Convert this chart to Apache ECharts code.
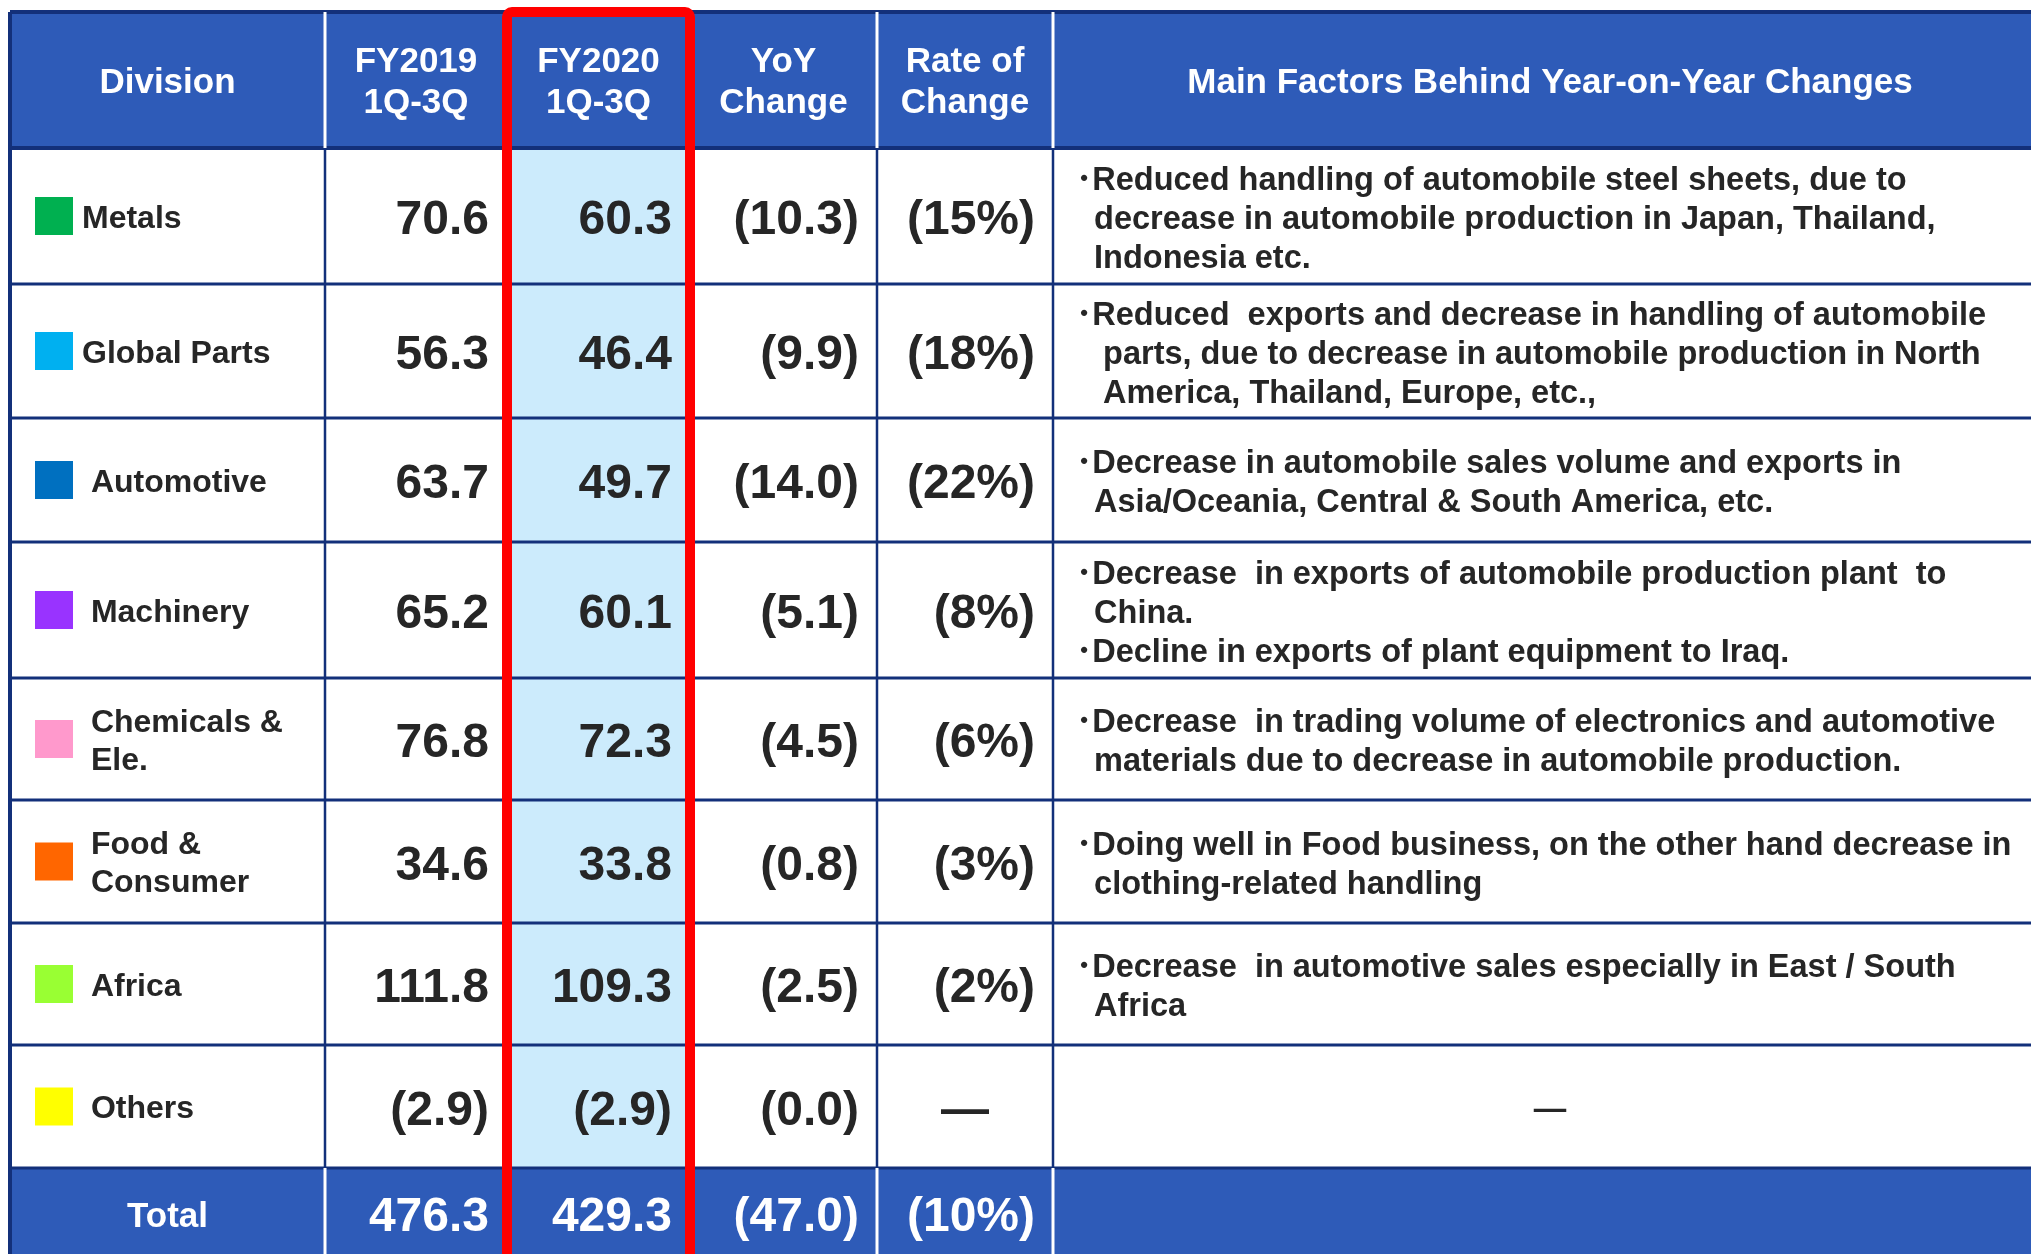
<!DOCTYPE html>
<html>
<head>
<meta charset="utf-8">
<script src="https://cdn.jsdelivr.net/npm/echarts@6/dist/echarts.min.js"></script>
<style>
html, body { margin:0; padding:0; background:#fff; }
#main { width:2031px; height:1254px; }
</style>
</head>
<body>
<div id="main"></div>
<script>
// table content
var headers = ['Division', 'FY2019\n1Q-3Q', 'FY2020\n1Q-3Q', 'YoY\nChange', 'Rate of\nChange', 'Main Factors Behind Year-on-Year Changes'];
var divisions = ['Metals', 'Global Parts', ' Automotive', ' Machinery', ' Chemicals &\n Ele.', ' Food &\n Consumer', ' Africa', ' Others'];
var divisionColors = ['#00B050', '#00B0F0', '#0070C0', '#9933FF', '#FF99CC', '#FF6600', '#99FF33', '#FFFF00'];
var fy2019 = [70.6, 56.3, 63.7, 65.2, 76.8, 34.6, 111.8, -2.9];
var fy2020 = [60.3, 46.4, 49.7, 60.1, 72.3, 33.8, 109.3, -2.9];
var yoyChange = [-10.3, -9.9, -14.0, -5.1, -4.5, -0.8, -2.5, -0.0];
var rateOfChange = [-15, -18, -22, -8, -6, -3, -2, null];
var factors = [
  '･Reduced handling of automobile steel sheets, due to\n  decrease in automobile production in Japan, Thailand,\n  Indonesia etc.',
  '･Reduced  exports and decrease in handling of automobile\n   parts, due to decrease in automobile production in North\n   America, Thailand, Europe, etc.,',
  '･Decrease in automobile sales volume and exports in\n  Asia/Oceania, Central & South America, etc.',
  '･Decrease  in exports of automobile production plant  to\n  China.\n･Decline in exports of plant equipment to Iraq.',
  '･Decrease  in trading volume of electronics and automotive\n  materials due to decrease in automobile production.',
  '･Doing well in Food business, on the other hand decrease in\n  clothing-related handling',
  '･Decrease  in automotive sales especially in East / South\n  Africa',
  null
];
var totalLabel = 'Total';
var totals = [476.3, 429.3, -47.0, -10];

// layout (pixel units on the hidden value axes)
var colEdges = [10, 325, 507, 690, 877, 1053, 2047];
var rowEdges = [12, 148, 284, 418, 542, 678, 800, 923, 1045, 1168, 1262];

var FONT = '"Liberation Sans", Arial, "Noto Sans CJK JP", sans-serif';
var BLUE = '#2E5BB8', NAVY = '#13307A', HILITE = '#CCEBFC', INK = '#262626';

function fmt(v, dec, suffix) {
  if (v == null) return '—';
  var s = Math.abs(v).toFixed(dec) + (suffix || '');
  return (v < 0 || Object.is(v, -0)) ? '(' + s + ')' : s;
}

var nRows = rowEdges.length - 1, nCols = colEdges.length - 1;
var cells = [];
for (var r = 0; r < nRows; r++) {
  for (var c = 0; c < nCols; c++) {
    cells.push([colEdges[c], rowEdges[r], colEdges[c + 1], rowEdges[r + 1], c, r]);
  }
}

function cellValue(c, r) {
  var i = r - 1;
  if (c === 1) return fmt(fy2019[i], 1);
  if (c === 2) return fmt(fy2020[i], 1);
  if (c === 3) return fmt(yoyChange[i], 1);
  return fmt(rateOfChange[i], 0, '%');
}

function renderCell(params, api) {
  var p0 = api.coord([api.value(0), api.value(1)]);
  var p1 = api.coord([api.value(2), api.value(3)]);
  var c = api.value(4), r = api.value(5);
  var isHead = r === 0, isTotal = r === nRows - 1;
  var x0 = p0[0], y0 = p0[1], x1 = p1[0], y1 = p1[1];
  var cy = (y0 + y1) / 2, cx = (x0 + x1) / 2;
  var bg = (isHead || isTotal) ? BLUE : (c === 2 ? HILITE : '#ffffff');
  var ch = [{ type: 'rect', shape: { x: x0, y: y0, width: x1 - x0, height: y1 - y0 }, style: { fill: bg } }];

  if (isHead) {
    ch.push({ type: 'text', style: { text: headers[c], x: cx, y: cy + 3, align: 'center', verticalAlign: 'middle',
      font: 'bold 35px ' + FONT, lineHeight: 41, fill: '#ffffff' } });
  } else if (isTotal) {
    if (c === 0) {
      ch.push({ type: 'text', style: { text: totalLabel, x: cx, y: cy + 2, align: 'center', verticalAlign: 'middle',
        font: 'bold 35px ' + FONT, fill: '#ffffff' } });
    } else if (c < 5) {
      var tv = c === 4 ? fmt(totals[3], 0, '%') : fmt(totals[c - 1], 1);
      ch.push({ type: 'text', style: { text: tv, x: x1 - 18, y: cy + 3, align: 'right', verticalAlign: 'middle',
        font: 'bold 48px ' + FONT, fill: '#ffffff' } });
    }
  } else {
    var i = r - 1;
    if (c === 0) {
      ch.push({ type: 'rect', shape: { x: x0 + 25, y: cy - 19, width: 38, height: 38 }, style: { fill: divisionColors[i] } });
      ch.push({ type: 'text', style: { text: divisions[i], x: x0 + 72, y: cy + 3, align: 'left', verticalAlign: 'middle',
        font: 'bold 32px ' + FONT, lineHeight: 38, fill: INK } });
    } else if (c < 5) {
      var txt = cellValue(c, r);
      var dash = txt === '—';
      ch.push({ type: 'text', style: { text: txt, x: dash ? cx : x1 - 18, y: cy + 5, align: dash ? 'center' : 'right',
        verticalAlign: 'middle', font: 'bold 48px ' + FONT, fill: INK } });
    } else {
      var f = factors[i];
      ch.push({ type: 'text', style: { text: f == null ? '—' : f, x: f == null ? cx : x0 + 23, y: cy + 4,
        align: f == null ? 'center' : 'left', verticalAlign: 'middle', font: 'bold 32.5px ' + FONT, lineHeight: 39, fill: INK } });
    }
  }
  return { type: 'group', children: ch };
}

// grid lines: [x0, y0, x1, y1, colour, width]
var lines = [];
var yTop = rowEdges[0], yHead = rowEdges[1], yTot = rowEdges[nRows - 1], yEnd = rowEdges[nRows];
var xL = colEdges[0], xR = colEdges[nCols];
for (var h = 0; h < nRows; h++) {
  lines.push([xL, rowEdges[h], xR, rowEdges[h], NAVY, h < 2 ? 4 : 3]);
}
for (var v = 1; v < nCols; v++) {
  lines.push([colEdges[v], yTop, colEdges[v], yHead, '#ffffff', 3]);
  lines.push([colEdges[v], yHead, colEdges[v], yTot, NAVY, 2.5]);
  lines.push([colEdges[v], yTot, colEdges[v], yEnd, '#ffffff', 3]);
}
lines.push([xL, yTop, xL, yEnd, NAVY, 4]);

var chart = echarts.init(document.getElementById('main'));
chart.setOption({
  animation: false,
  grid: { left: 0, right: 0, top: 0, bottom: 0 },
  xAxis: { type: 'value', min: 0, max: 2031, show: false },
  yAxis: { type: 'value', min: 0, max: 1254, inverse: true, show: false },
  series: [
    {
      type: 'custom', name: 'cells', data: cells, encode: { x: [0, 2], y: [1, 3] },
      renderItem: renderCell
    },
    {
      type: 'custom', name: 'rules', data: lines, encode: { x: [0, 2], y: [1, 3] },
      renderItem: function (params, api) {
        var a = api.coord([api.value(0), api.value(1)]);
        var b = api.coord([api.value(2), api.value(3)]);
        var d = lines[params.dataIndex];
        return { type: 'line', shape: { x1: a[0], y1: a[1], x2: b[0], y2: b[1] },
          style: { stroke: d[4], lineWidth: d[5] } };
      }
    },
    {
      type: 'custom', name: 'highlight',
      data: [[colEdges[2], rowEdges[0], colEdges[3], rowEdges[nRows]]], encode: { x: [0, 2], y: [1, 3] },
      renderItem: function (params, api) {
        var a = api.coord([api.value(0), api.value(1)]);
        var b = api.coord([api.value(2), api.value(3)]);
        return { type: 'rect', shape: { x: a[0], y: a[1], width: b[0] - a[0], height: b[1] - a[1], r: 5 },
          style: { fill: 'none', stroke: '#FF0000', lineWidth: 10 } };
      }
    }
  ]
});
</script>
</body>
</html>
